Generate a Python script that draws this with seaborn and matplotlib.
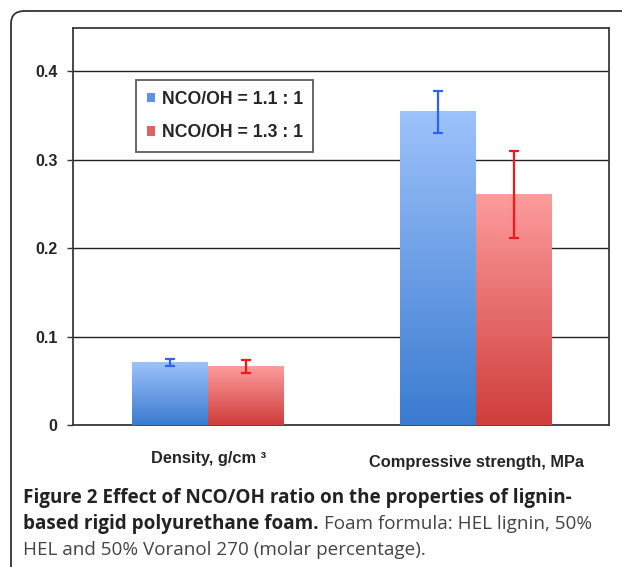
import numpy as np
import pandas as pd
import matplotlib
matplotlib.use("Agg")
import matplotlib.pyplot as plt
import seaborn as sns
from matplotlib.patches import FancyBboxPatch, Patch
from matplotlib.colors import LinearSegmentedColormap

# ---- data ----
properties = ["Density, g/cm ³", "Compressive strength, MPa"]
ratios = ["NCO/OH = 1.1 : 1", "NCO/OH = 1.3 : 1"]
values_11 = [0.071, 0.354]
values_13 = [0.066, 0.261]
errors_11 = [0.004, 0.024]
errors_13 = [0.007, 0.049]
yticks = [0, 0.1, 0.2, 0.3, 0.4]
ytick_labels = ["0", "0.1", "0.2", "0.3", "0.4"]

df = pd.DataFrame({
    "property": properties * 2,
    "ratio": [ratios[0]] * 2 + [ratios[1]] * 2,
    "value": values_11 + values_13,
})

sns.set_style("white")
plt.rcParams["font.family"] = ["Liberation Sans", "DejaVu Sans"]

W, H = 622, 567
fig = plt.figure(figsize=(W / 100, H / 100), dpi=100)
ax = fig.add_axes([73 / W, 1 - 425 / H, (609 - 73) / W, (425 - 28) / H])

palette = {ratios[0]: "#6a9de6", ratios[1]: "#e56a6a"}
sns.barplot(data=df, x="property", y="value", hue="ratio", order=properties,
            hue_order=ratios, palette=palette, width=0.567, saturation=1,
            legend=False, ax=ax, zorder=3, linewidth=0)

XL = (-0.504, 1.496)
YL = (0, 0.449)

# gradient fills (dark at bottom, light at top of each bar)
grads = {
    ratios[0]: LinearSegmentedColormap.from_list("b", ["#3a7bcf", "#9dc2fb"]),
    ratios[1]: LinearSegmentedColormap.from_list("r", ["#cf3d3c", "#fd9c9c"]),
}
bars = [p for p in ax.patches if p.get_height() > 0]
bar_ratio = [ratios[0]] * 2 + [ratios[1]] * 2
grad = np.linspace(0, 1, 256).reshape(-1, 1)
for p, r in zip(bars, bar_ratio):
    x0 = p.get_x(); w = p.get_width(); h = p.get_height()
    ax.imshow(grad, cmap=grads[r], origin="lower", aspect="auto",
              extent=[x0, x0 + w, 0, h], zorder=3.5, vmin=0, vmax=1,
              interpolation="bilinear")
ax.set_xlim(*XL)
ax.set_ylim(*YL)

# error bars
err_colors = ["#2f62f2", "#2f62f2", "#f01818", "#f01818"]
errs = errors_11 + errors_13
for p, e, c in zip(bars, errs, err_colors):
    xc = p.get_x() + p.get_width() / 2
    ax.errorbar(xc, p.get_height(), yerr=e, color=c, elinewidth=1.6,
                capsize=3.8, capthick=1.6, zorder=5)

# grid & spines
ax.set_yticks(yticks)
ax.set_yticklabels(ytick_labels, fontsize=11.5, fontweight="bold")
ax.yaxis.grid(True, color="#222222", linewidth=1.0, zorder=1)
ax.set_axisbelow(True)
for s in ax.spines.values():
    s.set_visible(True)
    s.set_color("#3a3a3a")
    s.set_linewidth(1.3)
ax.tick_params(axis="y", length=4, width=1, color="#333333", left=True, pad=7)
ax.tick_params(axis="x", length=0)
ax.set_xlabel("")
ax.set_ylabel("")
ax.set_xticklabels([])

# category labels
ax.text(0, -0.0375, properties[0], ha="center", va="center", fontsize=11.8,
        fontweight="bold", transform=ax.transData, clip_on=False)
ax.text(1, -0.0425, properties[1], ha="center", va="center", fontsize=11.8,
        fontweight="bold", transform=ax.transData, clip_on=False)

# legend
handles = [Patch(facecolor="#5b93e2", edgecolor="none"),
           Patch(facecolor="#e26262", edgecolor="none")]
leg = ax.legend(handles, ratios, loc="upper left",
                bbox_to_anchor=((136 - 73) / (609 - 73), 1 - (80 - 28) / (425 - 28)),
                frameon=True, fancybox=False, handlelength=0.45, handleheight=0.45,
                handletextpad=0.4, labelspacing=0.95, borderpad=0.6,
                borderaxespad=0, prop={"weight": "bold", "size": 12.7})
leg.get_frame().set_edgecolor("#333333")
leg.get_frame().set_linewidth(1.3)
leg.set_zorder(6)

# outer rounded frame
frame = FancyBboxPatch((11 / W, -30 / H), (W + 40) / W, (H - 11 + 30) / H,
                       boxstyle="round,pad=0,rounding_size=0.022",
                       transform=fig.transFigure, fill=False,
                       edgecolor="#333333", linewidth=1.3)
fig.patches.append(frame)

# caption
cap_font = ["Open Sans", "DejaVu Sans"]
cs = 13.6
fig.text(23 / W, 1 - 498 / H, "Figure 2 Effect of NCO/OH ratio on the properties of lignin-",
         fontsize=cs, fontweight="bold", family=cap_font, va="center", color="#222222")
t1 = fig.text(23 / W, 1 - 524 / H, "based rigid polyurethane foam.", fontsize=cs,
              fontweight="bold", family=cap_font, va="center", color="#222222")
fig.canvas.draw()
bb = t1.get_window_extent()
fig.text((bb.x1 + 5) / W, 1 - 524 / H, "Foam formula: HEL lignin, 50%", fontsize=cs,
         family=cap_font, va="center", color="#444444")
fig.text(23 / W, 1 - 550 / H, "HEL and 50% Voranol 270 (molar percentage).", fontsize=cs,
         family=cap_font, va="center", color="#444444")

fig.savefig("out.png", dpi=100)
